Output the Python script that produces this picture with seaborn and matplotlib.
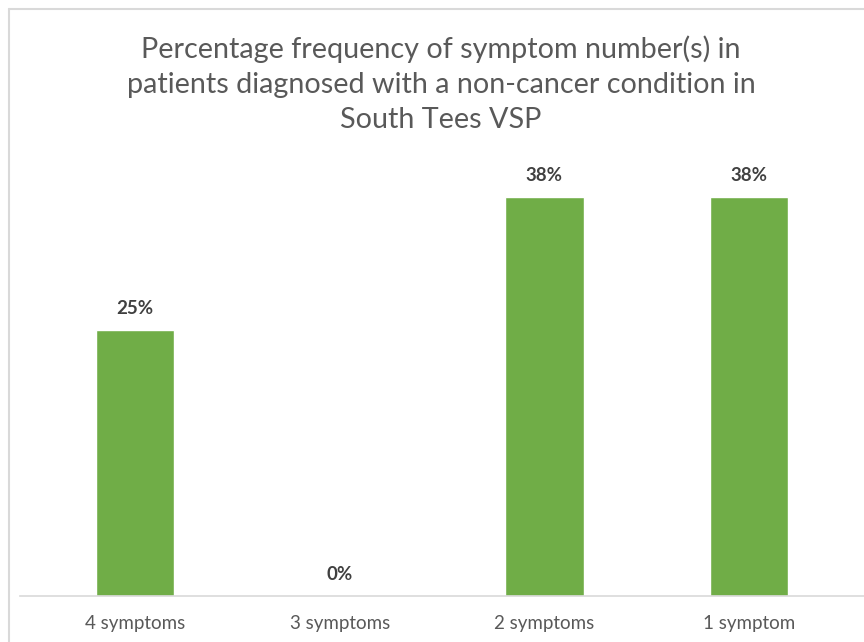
import matplotlib
matplotlib.use("Agg")
import matplotlib.pyplot as plt
import seaborn as sns
import pandas as pd
from matplotlib.lines import Line2D

# --- Data ---
categories = ["4 symptoms", "3 symptoms", "2 symptoms", "1 symptom"]
percentages = [25.0, 0.0, 37.5, 37.5]
title_text = ("Percentage frequency of symptom number(s) in\n"
              "patients diagnosed with a non-cancer condition in\n"
              "South Tees VSP")

df = pd.DataFrame({"category": categories, "percent": percentages})

# --- Style ---
sns.set_theme(style="white")
plt.rcParams["font.family"] = ["Lato", "DejaVu Sans"]

W, H = 864, 642
fig = plt.figure(figsize=(W / 100, H / 100), dpi=100)
ax = fig.add_axes([20 / W, 1 - 596 / H, 1 - 20 / W, (596 - 170) / H])

sns.barplot(data=df, x="category", y="percent", color="#70AD47",
            width=0.385, saturation=1, ax=ax)

ax.bar_label(ax.containers[0], labels=[f"{v:.0f}%" for v in percentages],
             padding=9, fontsize=13.5, fontweight="bold", color="#404040")

ax.set_xlim(-0.562, 3.562)
ax.set_ylim(0, 40)
ax.set_xlabel("")
ax.set_ylabel("")
ax.set_yticks([])
ax.tick_params(axis="x", length=0, pad=14, labelsize=13.5, labelcolor="#595959")
for side in ["left", "right", "top"]:
    ax.spines[side].set_visible(False)
ax.spines["bottom"].set_color("#D9D9D9")
ax.spines["bottom"].set_linewidth(1.2)

fig.text(441 / W, 1 - 84 / H, title_text, ha="center", va="center",
         fontsize=20.7, color="#595959", linespacing=1.43)

# chart border (left and top edges visible in the crop)
fig.add_artist(Line2D([8.5 / W, 8.5 / W], [0, 1 - 9 / H], color="#D9D9D9", lw=1.5,
                      transform=fig.transFigure))
fig.add_artist(Line2D([8.5 / W, 1], [1 - 9 / H, 1 - 9 / H], color="#D9D9D9", lw=1.5,
                      transform=fig.transFigure))

fig.savefig("out.png", dpi=100)
